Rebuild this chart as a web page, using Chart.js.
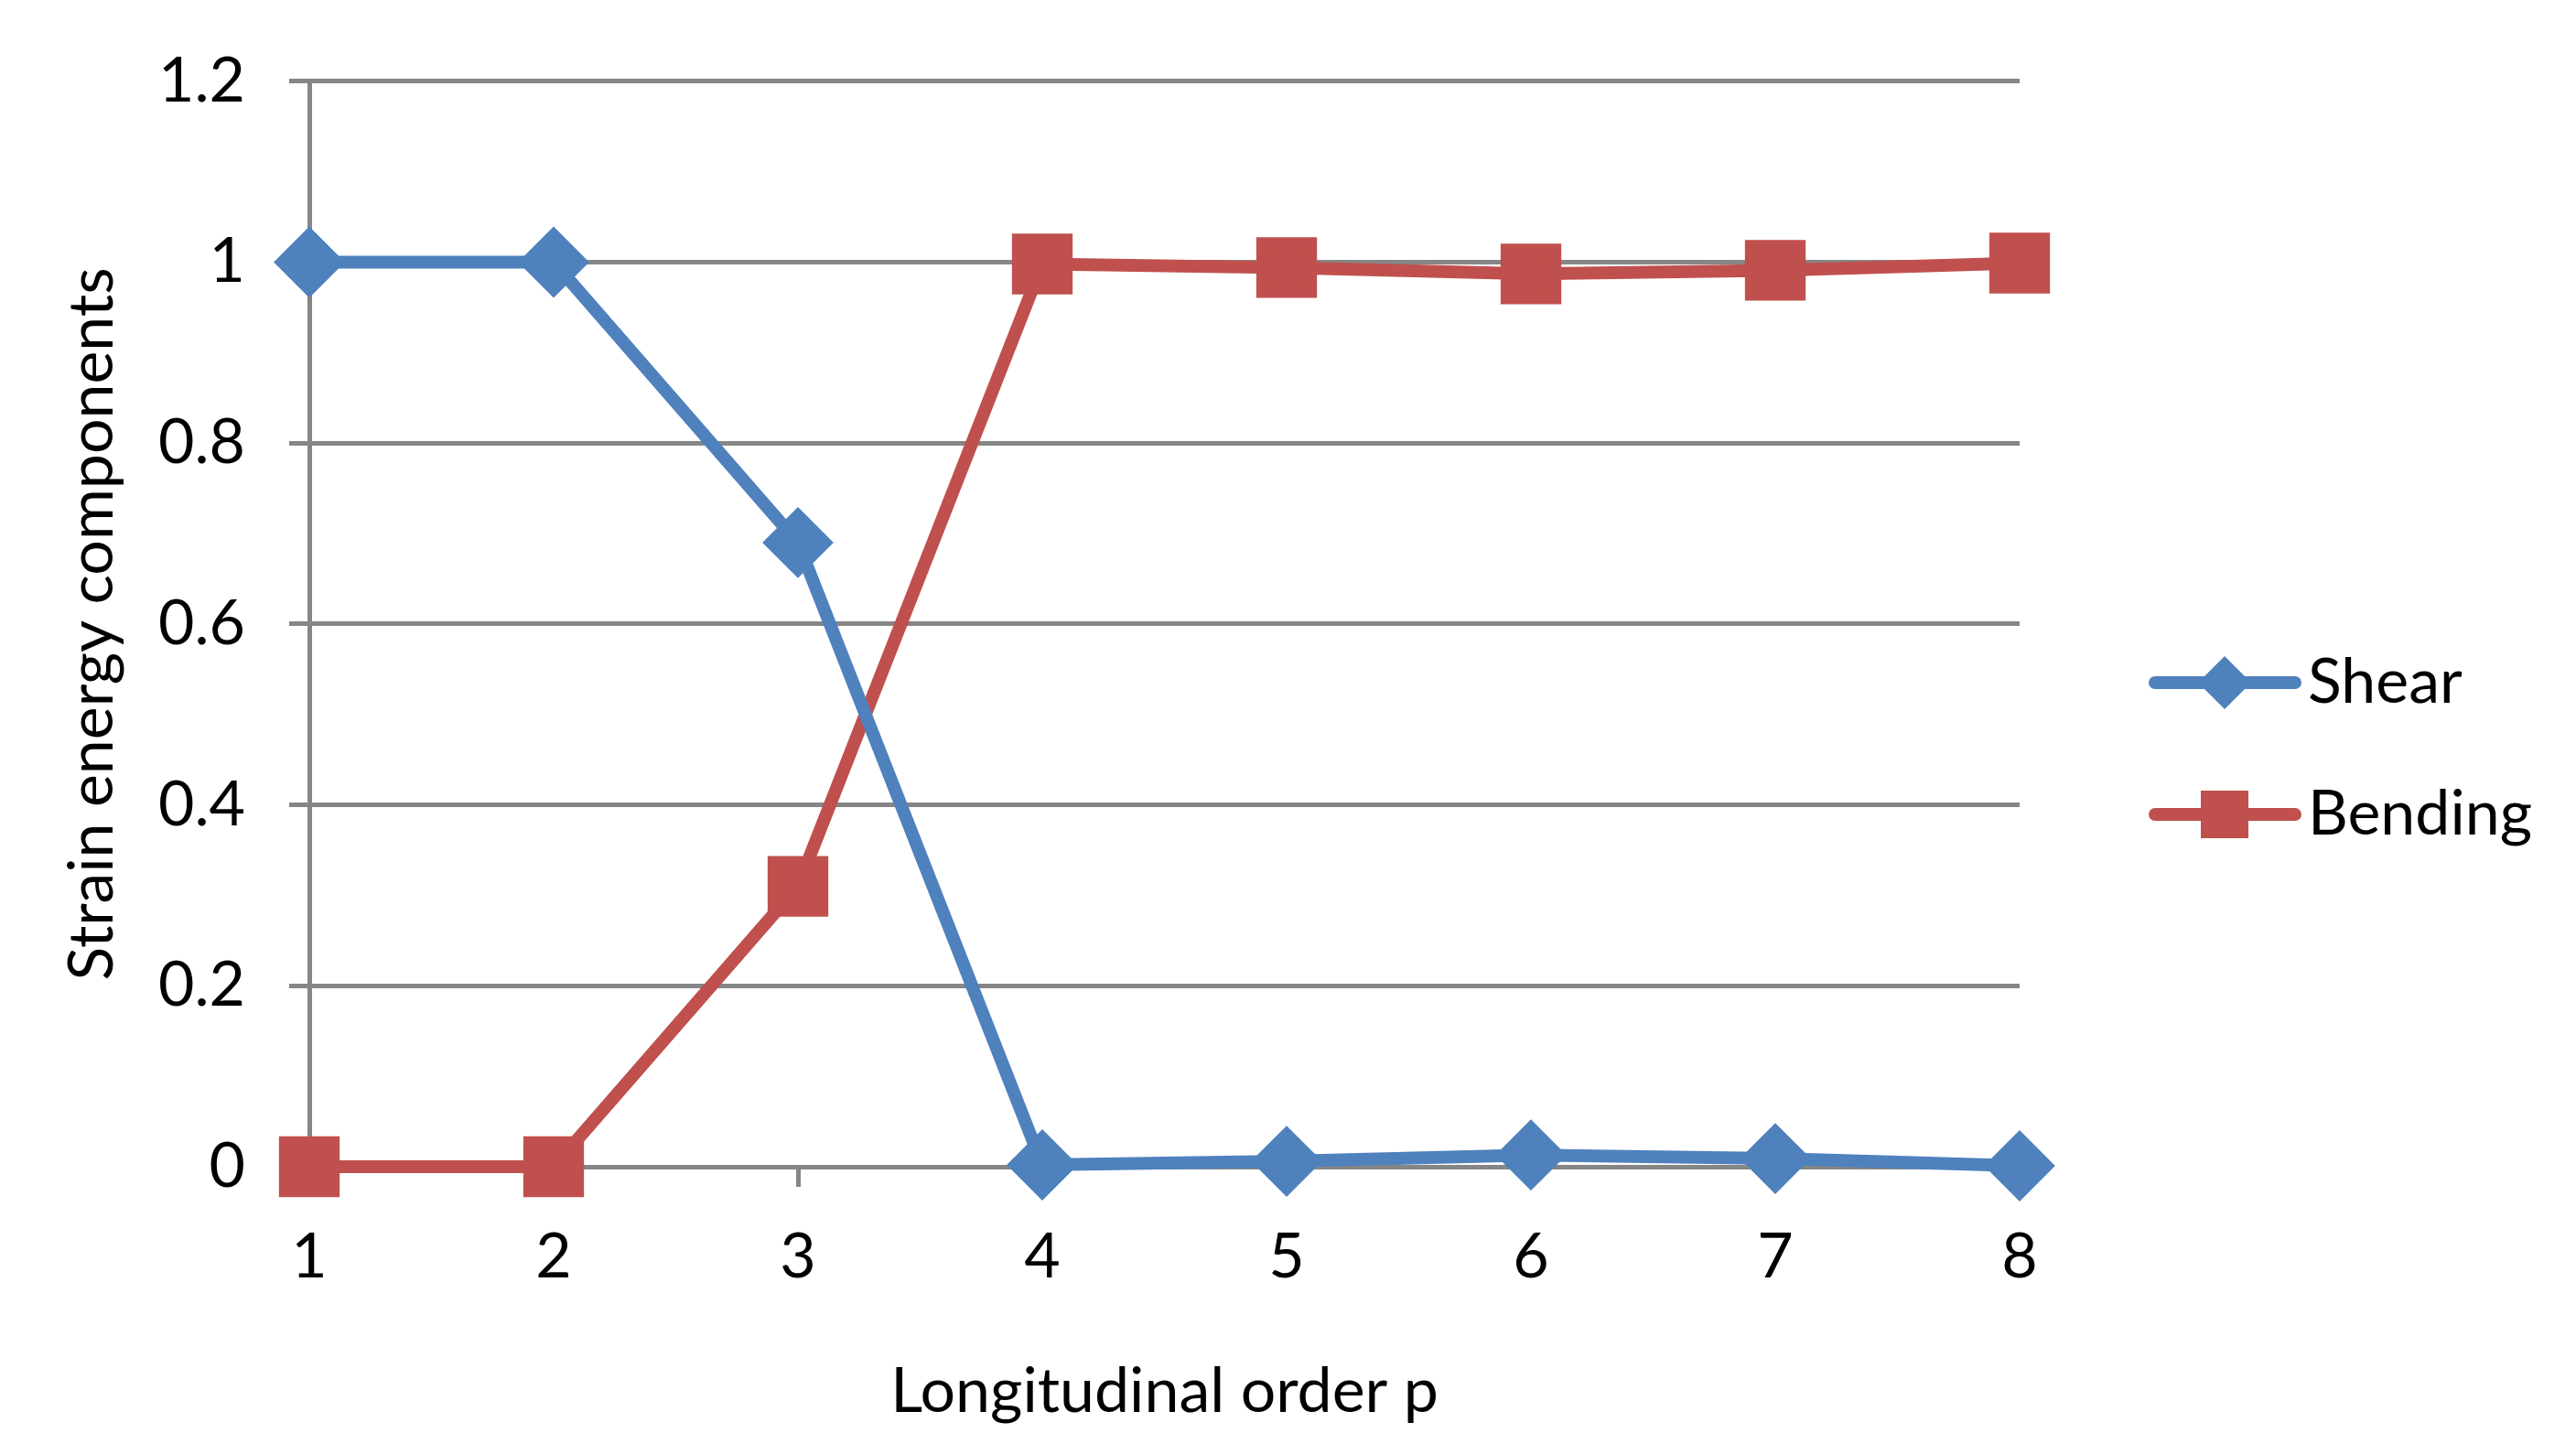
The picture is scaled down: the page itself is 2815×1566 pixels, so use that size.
<!DOCTYPE html>
<html><head><meta charset="utf-8">
<script src="https://cdn.jsdelivr.net/npm/chart.js@4"></script>
<style>html,body{margin:0;padding:0;background:#fff}#w{width:2815px;height:1566px}</style>
</head><body><div id="w"><canvas id="c"></canvas></div>
<script>
const categories = ['1','2','3','4','5','6','7','8'];
const shear = [1, 1, 0.69, 0.002, 0.006, 0.013, 0.009, 0.001];
const bending = [0, 0, 0.31, 0.998, 0.994, 0.987, 0.991, 0.999];
const yTicks = [0, 0.2, 0.4, 0.6, 0.8, 1, 1.2];
const FONT = "Lato, 'Open Sans', sans-serif";
const blue = '#4F81BD', red = '#C0504D';

const legendPlugin = {
  id: 'customLegend',
  afterDraw(chart) {
    const ctx = chart.ctx;
    const items = [{t:'Shear', c:blue, s:'d', y:746}, {t:'Bending', c:red, s:'s', y:890}];
    ctx.save();
    for (const it of items) {
      ctx.strokeStyle = it.c; ctx.fillStyle = it.c; ctx.lineWidth = 14; ctx.lineCap='round';
      ctx.beginPath(); ctx.moveTo(2355, it.y); ctx.lineTo(2508, it.y); ctx.stroke();
      const cx = 2431;
      ctx.beginPath();
      if (it.s === 'd') { ctx.moveTo(cx, it.y-29); ctx.lineTo(cx+29, it.y); ctx.lineTo(cx, it.y+29); ctx.lineTo(cx-29, it.y); ctx.closePath(); }
      else { ctx.rect(cx-26, it.y-26, 52, 52); }
      ctx.fill();
      ctx.fillStyle = '#000'; ctx.font = "68px " + FONT; ctx.textBaseline = 'middle'; ctx.textAlign='left';
      ctx.fillText(it.t, 2522, it.y);
    }
    ctx.restore();
  }
};

new Chart(document.getElementById('c'), {
  type: 'line',
  data: {
    labels: categories,
    datasets: [
      {label:'Shear', data: shear, borderColor: blue, backgroundColor: blue, borderWidth: 14,
       pointStyle:'rectRot', pointRadius: 29, pointHoverRadius: 29, tension:0, clip: false},
      {label:'Bending', data: bending, borderColor: red, backgroundColor: red, borderWidth: 14,
       pointStyle:'rect', pointRadius: 37, pointHoverRadius: 37, tension:0, clip: false}
    ]
  },
  options: {
    responsive: true, maintainAspectRatio: false, animation: false,
    devicePixelRatio: 1,
    layout: {padding: {top: 84, right: 608, left: 0, bottom: 0}},
    plugins: {legend: {display: false}, tooltip: {enabled: false}},
    scales: {
      x: {
        offset: false,
        grid: {display: true, drawOnChartArea: false, color: '#868686', lineWidth: 5, tickLength: 22},
        border: {color: '#868686', width: 5},
        ticks: {color: '#000', font: {size: 68, family: FONT}, padding: 36, maxRotation: 0},
        title: {display: true, text: 'Longitudinal order p', color: '#000', font: {size: 68, family: FONT}, padding: {top: 26}},
        afterFit(s) { s.height = 291; }
      },
      y: {
        min: 0, max: 1.2,
        afterBuildTicks(s) { s.ticks = yTicks.map(v => ({value: v})); },
        grid: {color: '#868686', lineWidth: 5, tickLength: 22},
        border: {color: '#868686', width: 5},
        ticks: {color: '#000', font: {size: 68, family: FONT}, padding: 48,
                callback: v => String(v)},
        title: {display: true, text: 'Strain energy components', color: '#000', font: {size: 68, family: FONT}, padding: {bottom: 0, top: 60}},
        afterFit(s) { s.width = 338; }
      }
    }
  },
  plugins: [legendPlugin]
});
</script></body></html>
